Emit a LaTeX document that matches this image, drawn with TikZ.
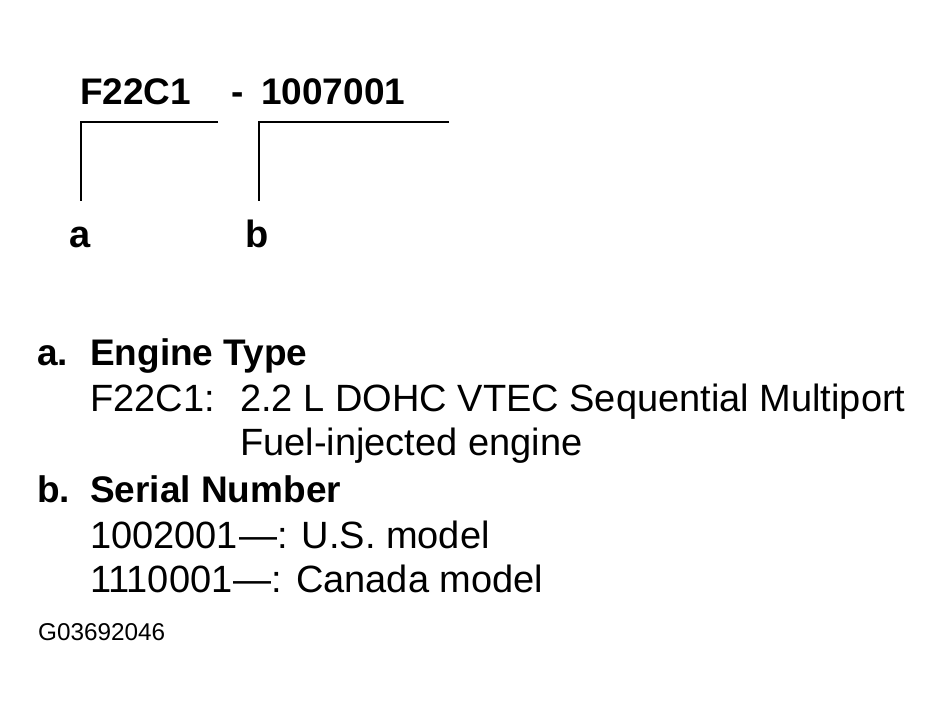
\documentclass[tikz,border=0pt]{standalone}
\usepackage{fontspec}
\setmainfont{Liberation Sans}
\begin{document}
\begin{tikzpicture}[x=1pt,y=-1pt,
  txt/.style={anchor=base west,inner sep=0pt,font=\fontsize{38}{40}\selectfont},
  btxt/.style={txt,font=\fontsize{37}{40}\selectfont\bfseries},
  lbl/.style={anchor=base west,inner sep=0pt,font=\fontsize{38}{40}\selectfont\bfseries},
  small/.style={anchor=base west,inner sep=0pt,font=\fontsize{24.3}{26}\selectfont},
  brk/.style={line width=1.8pt}]
\useasboundingbox (0,0) rectangle (944,713);
\node[btxt] (code) at (80,104) {F22C1};
\node[btxt] (dash) at (231,104) {-};
\node[btxt] (serial) at (261,104) {1007001};
\coordinate (a1) at (218,122);
\coordinate (a2) at (81,122);
\coordinate (a3) at (81,201);
\coordinate (b1) at (449,122);
\coordinate (b2) at (259,122);
\coordinate (b3) at (259,201);
\draw[brk] (a1) -- (a2) -- (a3);
\draw[brk] (b1) -- (b2) -- (b3);
\node[lbl] (la) at (69,247) {a};
\node[lbl] (lb) at (245,247) {b};
\node[btxt] (ia) at (37,365) {a.};
\node[btxt] (ta) at (90,365) {Engine Type};
\node[txt] (ca) at (90,411) {F22C1:};
\node[txt] (da1) at (240,411) {2.2 L DOHC VTEC Sequential Multiport};
\node[txt] (da2) at (240,455) {Fuel-injected engine};
\node[btxt] (ib) at (37,502) {b.};
\node[btxt] (tb) at (90,502) {Serial Number};
\node[txt] (s1) at (90,548) {1002001\kern1pt—: U.S. model};
\node[txt] (s2) at (90,592) {1110001\kern1pt—: Canada model};
\node[small] (gid) at (38,640) {G03692046};
\end{tikzpicture}
\end{document}
